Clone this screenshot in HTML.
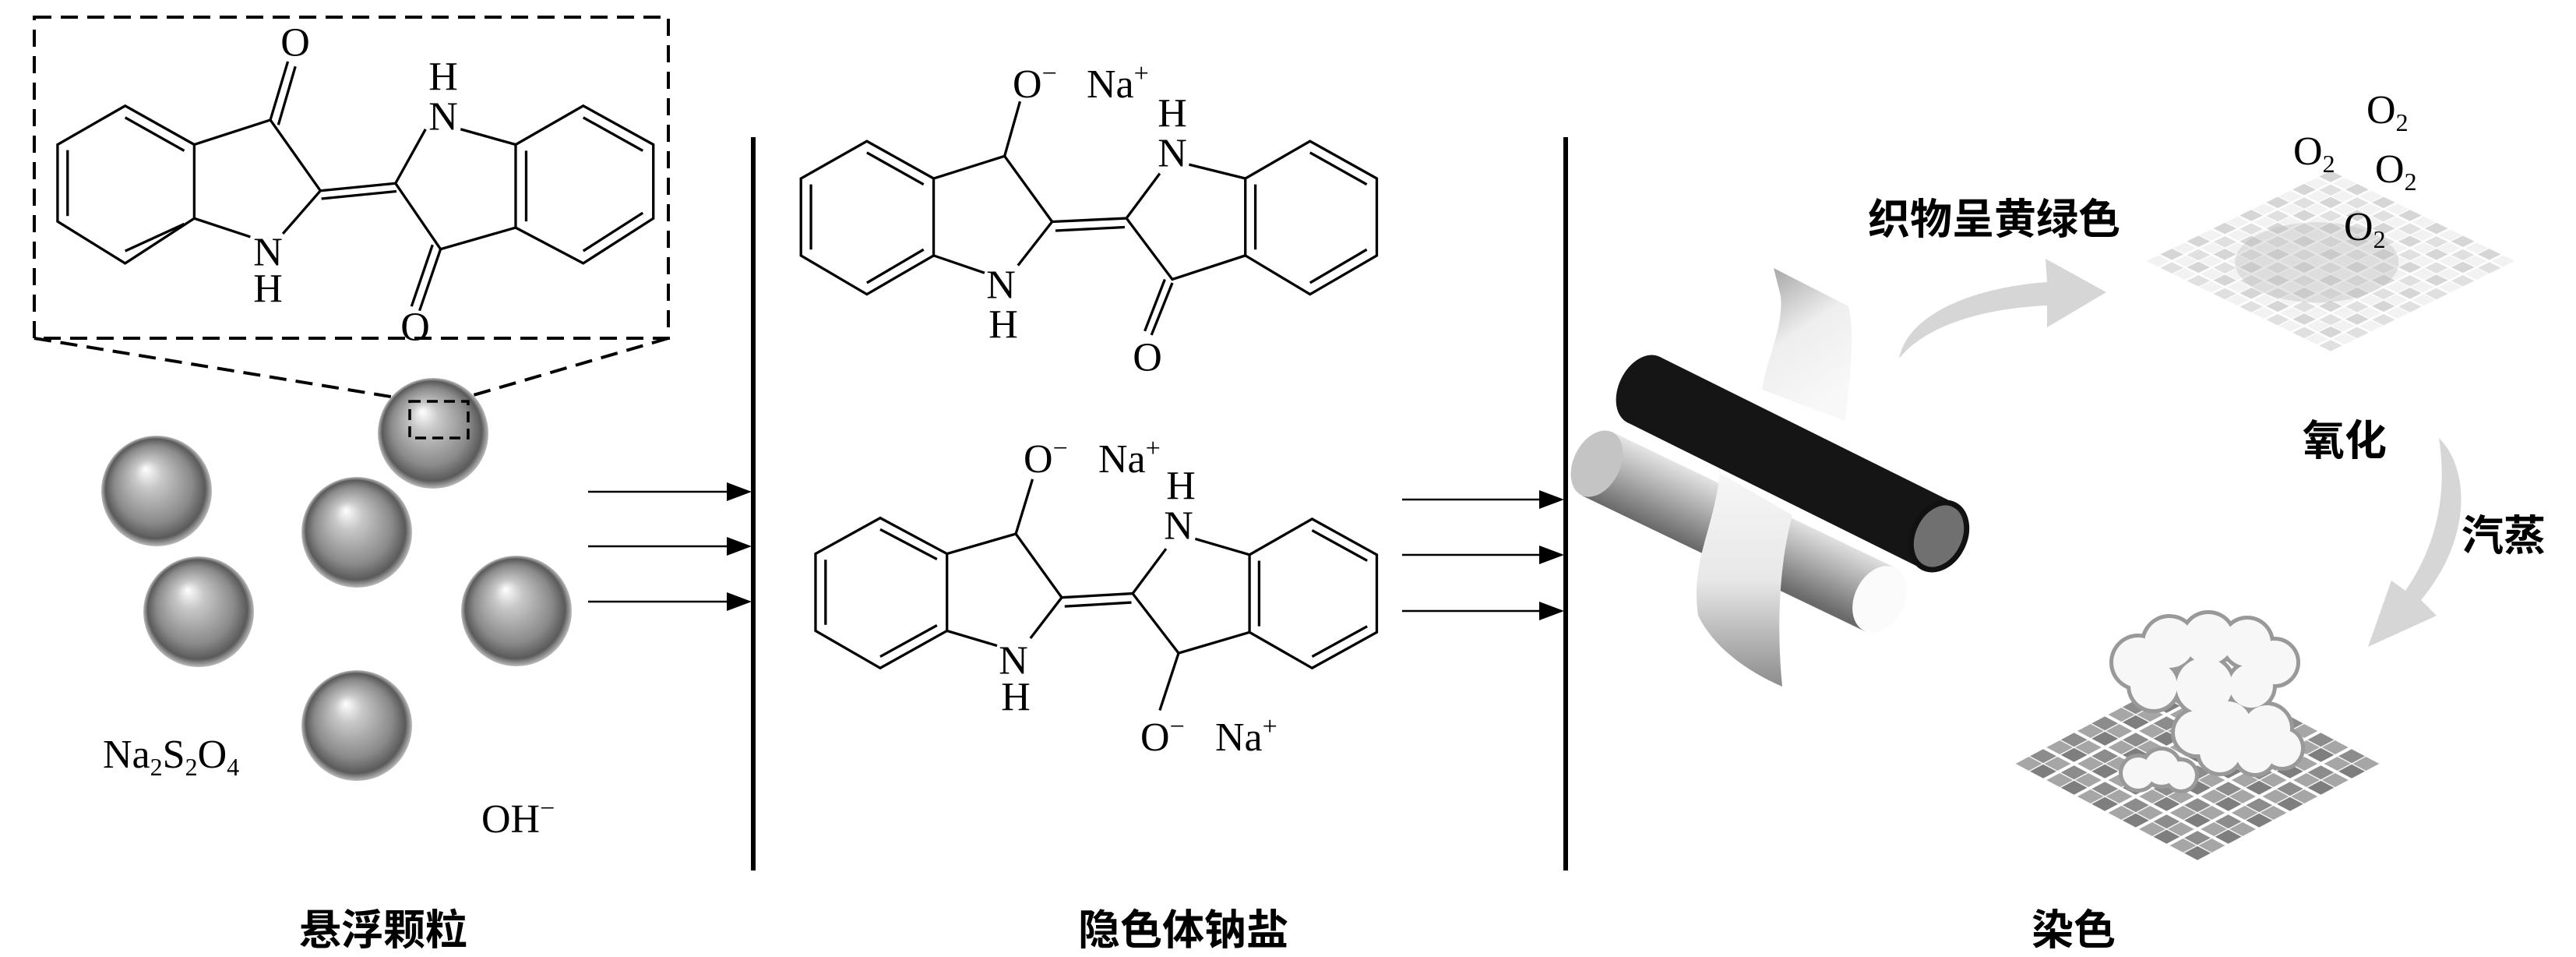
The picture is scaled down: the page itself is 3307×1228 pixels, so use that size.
<!DOCTYPE html>
<html><head><meta charset="utf-8"><style>
html,body{margin:0;padding:0;background:#fff}
svg{display:block}
.t{font-family:"Liberation Serif",serif;font-size:52px;fill:#000}
.c{font-family:"Liberation Sans","Noto Sans CJK SC",sans-serif;font-weight:700;font-size:54px;fill:#000}
.m{fill:none;stroke:#000;stroke-width:3.3;vector-effect:non-scaling-stroke}
</style></head><body>
<svg width="3307" height="1228" viewBox="0 0 3307 1228" xmlns="http://www.w3.org/2000/svg">
<defs>
<radialGradient id="sph" cx="0.5" cy="0.5" r="0.5" fx="0.4" fy="0.3">
<stop offset="0" stop-color="#fff"/><stop offset="0.25" stop-color="#c8c8c8"/><stop offset="0.7" stop-color="#8a8a8a"/><stop offset="0.9" stop-color="#5a5a5a"/><stop offset="1" stop-color="#bbb"/>
</radialGradient>
<pattern id="wl" width="48" height="48" patternUnits="userSpaceOnUse">
<rect width="48" height="48" fill="#fff"/>
<rect x="2" y="2" width="21" height="21" fill="#e0e0e0"/><rect x="25" y="2" width="21" height="21" fill="#f2f2f2"/>
<rect x="2" y="25" width="21" height="21" fill="#f2f2f2"/><rect x="25" y="25" width="21" height="21" fill="#d6d6d6"/>
</pattern>
<pattern id="wd" width="56" height="56" patternUnits="userSpaceOnUse">
<rect width="56" height="56" fill="#fff"/>
<rect x="3" y="3" width="24" height="24" fill="#8c8c8c"/><rect x="29" y="3" width="24" height="24" fill="#a6a6a6"/>
<rect x="3" y="29" width="24" height="24" fill="#a6a6a6"/><rect x="29" y="29" width="24" height="24" fill="#7e7e7e"/>
</pattern>
<linearGradient id="gr" gradientUnits="userSpaceOnUse" x1="2069" y1="554" x2="2031" y2="636"><stop offset="0" stop-color="#e6e6e6"/><stop offset="0.45" stop-color="#b0b0b0"/><stop offset="1" stop-color="#6a6a6a"/></linearGradient>
<linearGradient id="rb" x1="0" y1="0" x2="0.4" y2="1"><stop offset="0" stop-color="#a0a0a0"/><stop offset="0.5" stop-color="#eeeeee"/><stop offset="1" stop-color="#f8f8f8"/></linearGradient>
<linearGradient id="rb2" x1="0" y1="0" x2="0" y2="1"><stop offset="0" stop-color="#f6f6f6"/><stop offset="0.5" stop-color="#e8e8e8"/><stop offset="1" stop-color="#8c8c8c"/></linearGradient>
</defs>

<rect x="44" y="22" width="814" height="412" fill="none" stroke="#000" stroke-width="4" stroke-dasharray="22,12"/>
<line x1="44" y1="434" x2="526" y2="513" stroke="#000" stroke-width="4" stroke-dasharray="22,12"/>
<line x1="858" y1="434" x2="601" y2="509" stroke="#000" stroke-width="4" stroke-dasharray="22,12"/>

<g transform="translate(0,0) scale(0.6427,0.7894)">
<polygon class="m" points="115,235 250,172 388,235 388,355 250,428 115,360"/>
<line class="m" x1="250" y1="191" x2="368" y2="245"/><line class="m" x1="135" y1="244" x2="135" y2="351"/><line class="m" x1="250" y1="408" x2="368" y2="364"/>
<polyline class="m" points="388,235 540,195 640,310 565,380"/>
<line class="m" x1="388" y1="355" x2="500" y2="385"/>
<line class="m" x1="540" y1="195" x2="575" y2="100"/><line class="m" x1="556" y1="203" x2="590" y2="108"/>
<line class="m" x1="640" y1="310" x2="790" y2="298"/><line class="m" x1="642" y1="323" x2="792" y2="311"/>
<polyline class="m" points="850,210 790,298 880,405 1030,370"/>
<line class="m" x1="920" y1="210" x2="1030" y2="235"/>
<line class="m" x1="880" y1="405" x2="838" y2="505"/><line class="m" x1="864" y1="398" x2="822" y2="498"/>
<polygon class="m" points="1030,235 1165,172 1305,235 1305,355 1165,428 1030,370"/>
<line class="m" x1="1165" y1="191" x2="1284" y2="245"/><line class="m" x1="1284" y1="346" x2="1165" y2="408"/><line class="m" x1="1051" y1="245" x2="1051" y2="360"/>
</g>
<g class="t" text-anchor="middle" dominant-baseline="central">
<text x="379" y="55">O</text><text x="569" y="99">H</text><text x="569" y="150">N</text>
<text x="344" y="324">N</text><text x="344" y="371">H</text><text x="533" y="420">O</text>
</g>

<g fill="url(#sph)">
<circle cx="556" cy="556" r="71"/><circle cx="201" cy="630" r="71"/><circle cx="458" cy="683" r="71"/>
<circle cx="255" cy="785" r="71"/><circle cx="663" cy="784" r="71"/><circle cx="458" cy="931" r="71"/>
</g>
<rect x="526" y="515" width="75" height="47" fill="none" stroke="#000" stroke-width="3.5" stroke-dasharray="14,8"/>
<text class="t" x="132" y="985" font-size="50">Na<tspan font-size="32" dy="10">2</tspan><tspan dy="-10">S</tspan><tspan font-size="32" dy="10">2</tspan><tspan dy="-10">O</tspan><tspan font-size="32" dy="10">4</tspan></text>
<text class="t" x="618" y="1068" font-size="50">OH<tspan font-size="34" dy="-20">−</tspan></text>

<rect x="964" y="176" width="6" height="941" fill="#000"/>
<rect x="2007" y="176" width="6" height="941" fill="#000"/>

<g stroke="#000" stroke-width="2.5">
<line x1="755" y1="631" x2="940" y2="631"/><line x1="755" y1="701" x2="940" y2="701"/><line x1="755" y1="772" x2="940" y2="772"/>
<line x1="1800" y1="641" x2="1982" y2="641"/><line x1="1800" y1="712" x2="1982" y2="712"/><line x1="1800" y1="784" x2="1982" y2="784"/>
</g>
<g fill="#000">
<polygon points="933,619 965,631 933,643"/><polygon points="933,689 965,701 933,713"/><polygon points="933,760 965,772 933,784"/>
<polygon points="1976,629 2008,641 1976,653"/><polygon points="1976,700 2008,712 1976,724"/><polygon points="1976,772 2008,784 1976,796"/>
</g>

<g transform="translate(980,60) scale(0.5357,0.6378)">
<polygon class="m" points="90,265 248,190 408,265 408,420 248,498 90,420"/>
<line class="m" x1="248" y1="213" x2="384" y2="277"/><line class="m" x1="114" y1="277" x2="114" y2="408"/><line class="m" x1="248" y1="475" x2="384" y2="408"/>
<polyline class="m" points="408,265 578,220 692,352 610,440"/>
<line class="m" x1="578" y1="220" x2="615" y2="110"/>
<line class="m" x1="408" y1="420" x2="530" y2="455"/>
<line class="m" x1="692" y1="352" x2="870" y2="345"/><line class="m" x1="700" y1="370" x2="866" y2="363"/>
<polyline class="m" points="950,255 870,345 980,468 1155,420"/>
<line class="m" x1="1020" y1="237" x2="1155" y2="265"/>
<line class="m" x1="980" y1="475" x2="930" y2="580"/><line class="m" x1="962" y1="468" x2="914" y2="572"/>
<polygon class="m" points="1155,265 1310,190 1470,265 1470,420 1310,498 1155,420"/>
<line class="m" x1="1310" y1="213" x2="1446" y2="277"/><line class="m" x1="1446" y1="408" x2="1310" y2="475"/><line class="m" x1="1179" y1="277" x2="1179" y2="408"/>
</g>
<g transform="translate(980,60) scale(0.5357,0.6378)">
<polygon class="m" points="125,1020 280,948 440,1020 440,1175 280,1250 125,1175"/>
<line class="m" x1="280" y1="971" x2="416" y2="1031"/><line class="m" x1="149" y1="1032" x2="149" y2="1163"/><line class="m" x1="280" y1="1227" x2="416" y2="1164"/>
<polyline class="m" points="440,1020 605,980 715,1108 640,1190"/>
<line class="m" x1="605" y1="980" x2="645" y2="870"/>
<line class="m" x1="440" y1="1175" x2="560" y2="1205"/>
<line class="m" x1="715" y1="1108" x2="885" y2="1100"/><line class="m" x1="722" y1="1126" x2="882" y2="1118"/>
<polyline class="m" points="965,1010 885,1100 995,1220 1165,1178"/>
<line class="m" x1="1035" y1="990" x2="1165" y2="1022"/>
<line class="m" x1="995" y1="1220" x2="950" y2="1335"/>
<polygon class="m" points="1165,1022 1315,950 1470,1022 1470,1178 1315,1250 1165,1178"/>
<line class="m" x1="1315" y1="973" x2="1447" y2="1034"/><line class="m" x1="1447" y1="1166" x2="1315" y2="1227"/><line class="m" x1="1188" y1="1034" x2="1188" y2="1166"/>
</g>
<g class="t" text-anchor="middle" dominant-baseline="central">
<text x="1505" y="146">H</text><text x="1505" y="197">N</text><text x="1285" y="366">N</text><text x="1288" y="417">H</text><text x="1473" y="459">O</text>
<text x="1516" y="624">H</text><text x="1513" y="675">N</text><text x="1301" y="848">N</text><text x="1304" y="895">H</text>
</g>
<g class="t">
<text x="1300" y="125">O<tspan font-size="34" dy="-20">−</tspan></text><text x="1395" y="125">Na<tspan font-size="34" dy="-20">+</tspan></text>
<text x="1314" y="606">O<tspan font-size="34" dy="-20">−</tspan></text><text x="1410" y="606">Na<tspan font-size="34" dy="-20">+</tspan></text>
<text x="1464" y="963">O<tspan font-size="34" dy="-20">−</tspan></text><text x="1560" y="963">Na<tspan font-size="34" dy="-20">+</tspan></text>
</g>

<path d="M2277,344 L2373,393 C2380,420 2378,470 2368,540 L2262,500 C2268,460 2290,420 2286,380 Z" fill="url(#rb)"/>
<polygon points="2069,554 2031,636 2394,810 2432,728" fill="url(#gr)"/>
<ellipse cx="2050" cy="595" rx="30" ry="45" transform="rotate(26 2050 595)" fill="#c4c4c4"/>
<ellipse cx="2413" cy="769" rx="32" ry="45" transform="rotate(26 2413 769)" fill="#fbfbfb"/>
<path d="M2208,607 L2301,661 C2285,720 2280,800 2288,881 C2240,860 2200,830 2180,790 C2170,720 2200,680 2208,607 Z" fill="url(#rb2)"/>
<polygon points="2131,458 2089,542 2468,730 2510,646" fill="#151515"/>
<ellipse cx="2110" cy="500" rx="32" ry="47" transform="rotate(26 2110 500)" fill="#151515"/>
<ellipse cx="2489" cy="688" rx="33" ry="45" transform="rotate(26 2489 688)" fill="#707070" stroke="#111" stroke-width="7"/>

<path d="M2438,460 C2450,400 2540,368 2628,362 L2626,332 L2704,375 L2628,420 L2628,392 C2540,396 2470,420 2438,460 Z" fill="#d6d6d6"/>
<text class="c" x="2560" y="300" text-anchor="middle" font-size="56">织物呈黄绿色</text>

<g transform="translate(2992,335) scale(1,0.49) rotate(45)">
<rect x="-168" y="-168" width="336" height="336" fill="url(#wl)"/>
<circle cx="-10" cy="15" r="105" fill="#b8b8b8" opacity="0.35"/>
</g>
<g class="t" font-size="48">
<text x="3038" y="158">O<tspan font-size="32" dy="10">2</tspan></text>
<text x="2944" y="211">O<tspan font-size="32" dy="10">2</tspan></text>
<text x="3049" y="234">O<tspan font-size="32" dy="10">2</tspan></text>
<text x="3009" y="308">O<tspan font-size="32" dy="10">2</tspan></text>
</g>
<text class="c" x="3010" y="584" text-anchor="middle" font-size="56">氧化</text>

<path d="M3131,562 C3170,600 3175,690 3108,770 L3128,790 L3040,830 L3070,745 L3088,758 C3135,690 3140,620 3131,562 Z" fill="#d6d6d6"/>
<text class="c" x="3214" y="706" text-anchor="middle" font-size="56">汽蒸</text>

<g transform="translate(2821,980) scale(1,0.53) rotate(45)">
<rect x="-169" y="-169" width="338" height="338" fill="url(#wd)"/>
</g>
<g stroke="#999" stroke-width="10" fill="#999">
<circle cx="2745" cy="850" r="32"/><circle cx="2785" cy="825" r="32"/><circle cx="2835" cy="820" r="32"/><circle cx="2885" cy="825" r="30"/><circle cx="2920" cy="850" r="28"/><circle cx="2765" cy="880" r="30"/><circle cx="2830" cy="880" r="36"/><circle cx="2890" cy="880" r="28"/>
<circle cx="2820" cy="940" r="28"/><circle cx="2860" cy="930" r="30"/><circle cx="2910" cy="935" r="30"/><circle cx="2930" cy="960" r="24"/><circle cx="2850" cy="965" r="26"/><circle cx="2895" cy="968" r="24"/>
<circle cx="2745" cy="992" r="20"/><circle cx="2775" cy="985" r="22"/><circle cx="2800" cy="995" r="18"/>
</g>
<g fill="#f7f7f7">
<circle cx="2745" cy="850" r="32"/><circle cx="2785" cy="825" r="32"/><circle cx="2835" cy="820" r="32"/><circle cx="2885" cy="825" r="30"/><circle cx="2920" cy="850" r="28"/><circle cx="2765" cy="880" r="30"/><circle cx="2830" cy="880" r="36"/><circle cx="2890" cy="880" r="28"/>
<circle cx="2820" cy="940" r="28"/><circle cx="2860" cy="930" r="30"/><circle cx="2910" cy="935" r="30"/><circle cx="2930" cy="960" r="24"/><circle cx="2850" cy="965" r="26"/><circle cx="2895" cy="968" r="24"/>
<circle cx="2745" cy="992" r="20"/><circle cx="2775" cy="985" r="22"/><circle cx="2800" cy="995" r="18"/>
</g>

<text class="c" x="492" y="1212" text-anchor="middle" font-size="56">悬浮颗粒</text>
<text class="c" x="1519" y="1212" text-anchor="middle" font-size="56">隐色体钠盐</text>
<text class="c" x="2662" y="1212" text-anchor="middle" font-size="56">染色</text>
</svg>
</body></html>
